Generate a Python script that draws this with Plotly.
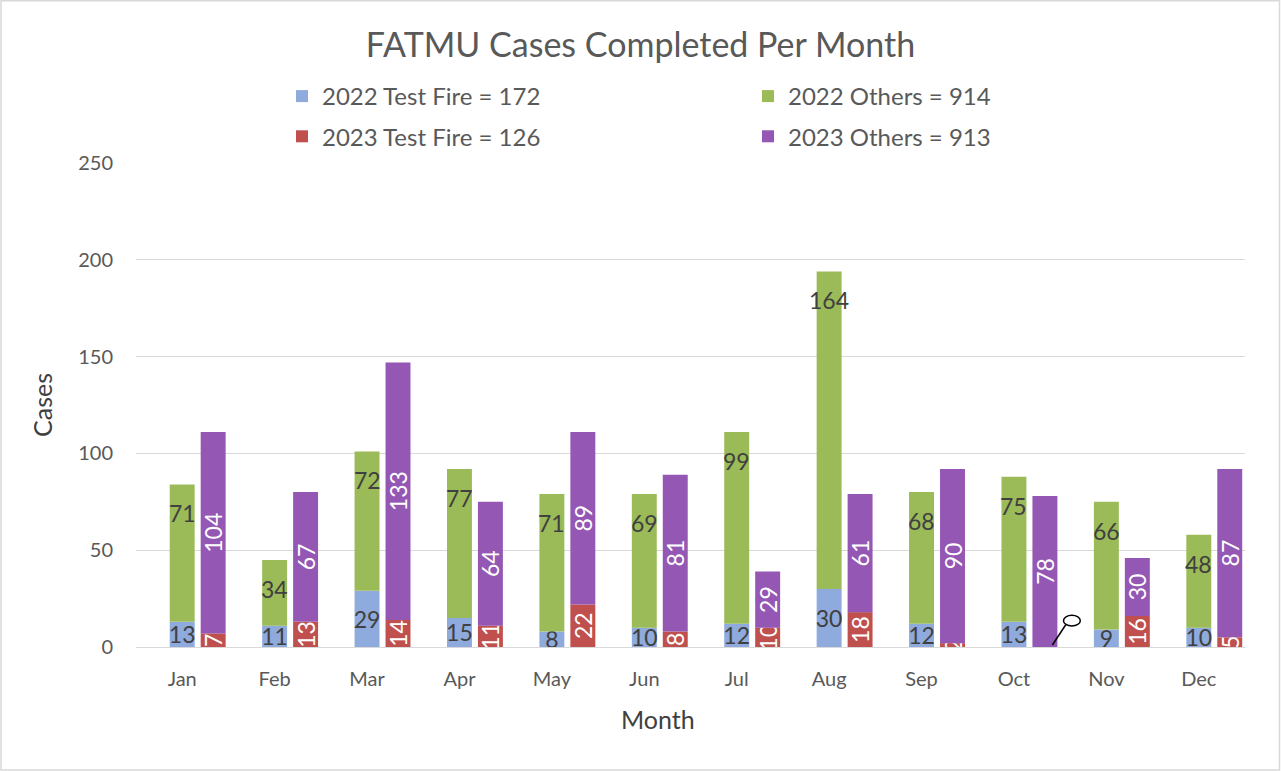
import plotly.graph_objects as go

months = ["Jan", "Feb", "Mar", "Apr", "May", "Jun", "Jul", "Aug", "Sep", "Oct", "Nov", "Dec"]
test_fire_2022 = [13, 11, 29, 15, 8, 10, 12, 30, 12, 13, 9, 10]
others_2022 = [71, 34, 72, 77, 71, 69, 99, 164, 68, 75, 66, 48]
test_fire_2023 = [7, 13, 14, 11, 22, 8, 10, 18, 2, 0, 16, 5]
others_2023 = [104, 67, 133, 64, 89, 81, 29, 61, 90, 78, 30, 87]

FONT = "Lato"
C_BLUE = "#8FAADC"
C_GREEN = "#9BBB59"
C_RED = "#C0504D"
C_PURPLE = "#9457B4"
GRAY = "#595959"
DARK = "#404040"

W, H = 1281, 771
ML, MR, MT, MB = 136, 36, 163, 124
PW, PH = W - ML - MR, H - MT - MB

x22 = [i for i in range(len(months))]
x23 = [i + 0.335 for i in range(len(months))]
BW = 0.27
LBL = 23


def labels(vals):
    return [str(v) if v else "" for v in vals]


def px(xp):
    return (xp - ML) / PW


def py(yp):
    return (H - MB - yp) / PH


fig = go.Figure()
fig.add_trace(go.Bar(
    x=x22, y=test_fire_2022, width=BW, name=f"2022 Test Fire = {sum(test_fire_2022)}",
    marker=dict(color=C_BLUE, line=dict(width=0)), text=labels(test_fire_2022),
    textposition="inside", insidetextanchor="middle", textangle=0,
    textfont=dict(family=FONT, size=LBL, color=DARK),
    legend="legend", legendgroup="a", legendrank=1))
fig.add_trace(go.Bar(
    x=x22, y=others_2022, width=BW, name=f"2022 Others = {sum(others_2022)}",
    marker=dict(color=C_GREEN, line=dict(width=0)),
    legend="legend2", legendgroup="b", legendrank=1))
fig.add_trace(go.Bar(
    x=x23, y=test_fire_2023, width=BW, name=f"2023 Test Fire = {sum(test_fire_2023)}",
    marker=dict(color=C_RED, line=dict(width=0)), text=labels(test_fire_2023),
    textposition="inside", insidetextanchor="middle", textangle=-90,
    textfont=dict(family=FONT, size=LBL, color="white"),
    legend="legend", legendgroup="c", legendrank=2))
fig.add_trace(go.Bar(
    x=x23, y=others_2023, width=BW, name=f"2023 Others = {sum(others_2023)}",
    marker=dict(color=C_PURPLE, line=dict(width=0)), text=labels(others_2023),
    textposition="inside", insidetextanchor="middle", textangle=-90,
    textfont=dict(family=FONT, size=LBL, color="white"),
    legend="legend2", legendgroup="d", legendrank=2))

# 2022 "Others" labels sit a fixed distance below the top of each stack
for xi, tf, ot in zip(x22, test_fire_2022, others_2022):
    fig.add_annotation(x=xi, y=tf + ot, xref="x", yref="y", text=str(ot),
                       showarrow=False, yshift=-29, yanchor="middle",
                       font=dict(family=FONT, size=LBL, color=DARK))

# axis title "Month"
fig.add_annotation(x=px(658), y=py(719), xref="paper", yref="paper",
                   text="Month", showarrow=False, xanchor="center", yanchor="middle",
                   font=dict(family=FONT, size=25, color=DARK))

shapes = [
    # stray pin-shaped drawing near October
    dict(type="line", xref="paper", yref="paper", x0=px(1052.4), y0=py(645), x1=px(1066.9), y1=py(623),
         line=dict(color="black", width=1.5)),
    dict(type="circle", xref="paper", yref="paper", x0=px(1063.5), y0=py(626), x1=px(1080.3), y1=py(615.3),
         line=dict(color="black", width=1.5), fillcolor="white"),
    # chart-area border
    dict(type="rect", xref="paper", yref="paper", x0=px(1), y0=py(770), x1=px(1279.5), y1=py(0.7),
         line=dict(color="#D9D9D9", width=1.5), fillcolor="rgba(0,0,0,0)", layer="below"),
]

fig.update_layout(
    width=W, height=H,
    margin=dict(l=ML, r=MR, t=MT, b=MB, pad=0),
    paper_bgcolor="white", plot_bgcolor="white",
    barmode="relative",
    font=dict(family=FONT, color=GRAY),
    title=dict(text="FATMU Cases Completed Per Month", x=0.5, xref="container", xanchor="center",
               y=1 - 45 / H, yref="container", yanchor="middle",
               font=dict(family=FONT, size=34, color=GRAY)),
    uniformtext=dict(minsize=LBL, mode="show"),
    legend=dict(orientation="v", x=px(282), y=py(74), xanchor="left", yanchor="top",
                font=dict(family=FONT, size=24, color=GRAY), tracegroupgap=6,
                bgcolor="rgba(0,0,0,0)", itemclick=False),
    legend2=dict(orientation="v", x=px(748), y=py(74), xanchor="left", yanchor="top",
                 font=dict(family=FONT, size=24, color=GRAY), tracegroupgap=6,
                 bgcolor="rgba(0,0,0,0)", itemclick=False),
    shapes=shapes,
    xaxis=dict(range=[-0.5, 11.5], tickmode="array", tickvals=x22, ticktext=months,
               showgrid=False, zeroline=False, showline=True, linecolor="#D9D9D9", linewidth=1,
               ticks="", tickfont=dict(family=FONT, size=20, color=GRAY), ticklabelstandoff=14,
               fixedrange=True),
    yaxis=dict(range=[0, 250], dtick=50, showgrid=True, gridcolor="#D9D9D9", gridwidth=1,
               zeroline=False, showline=False, ticks="",
               tickfont=dict(family=FONT, size=20, color=GRAY), ticklabelstandoff=22,
               title=dict(text="Cases", font=dict(family=FONT, size=25, color=DARK), standoff=18),
               fixedrange=True),
    showlegend=True,
)

fig.write_html("out.html", config={"displayModeBar": False},
               post_script="document.body.style.margin='0';document.body.style.overflow='hidden';")
